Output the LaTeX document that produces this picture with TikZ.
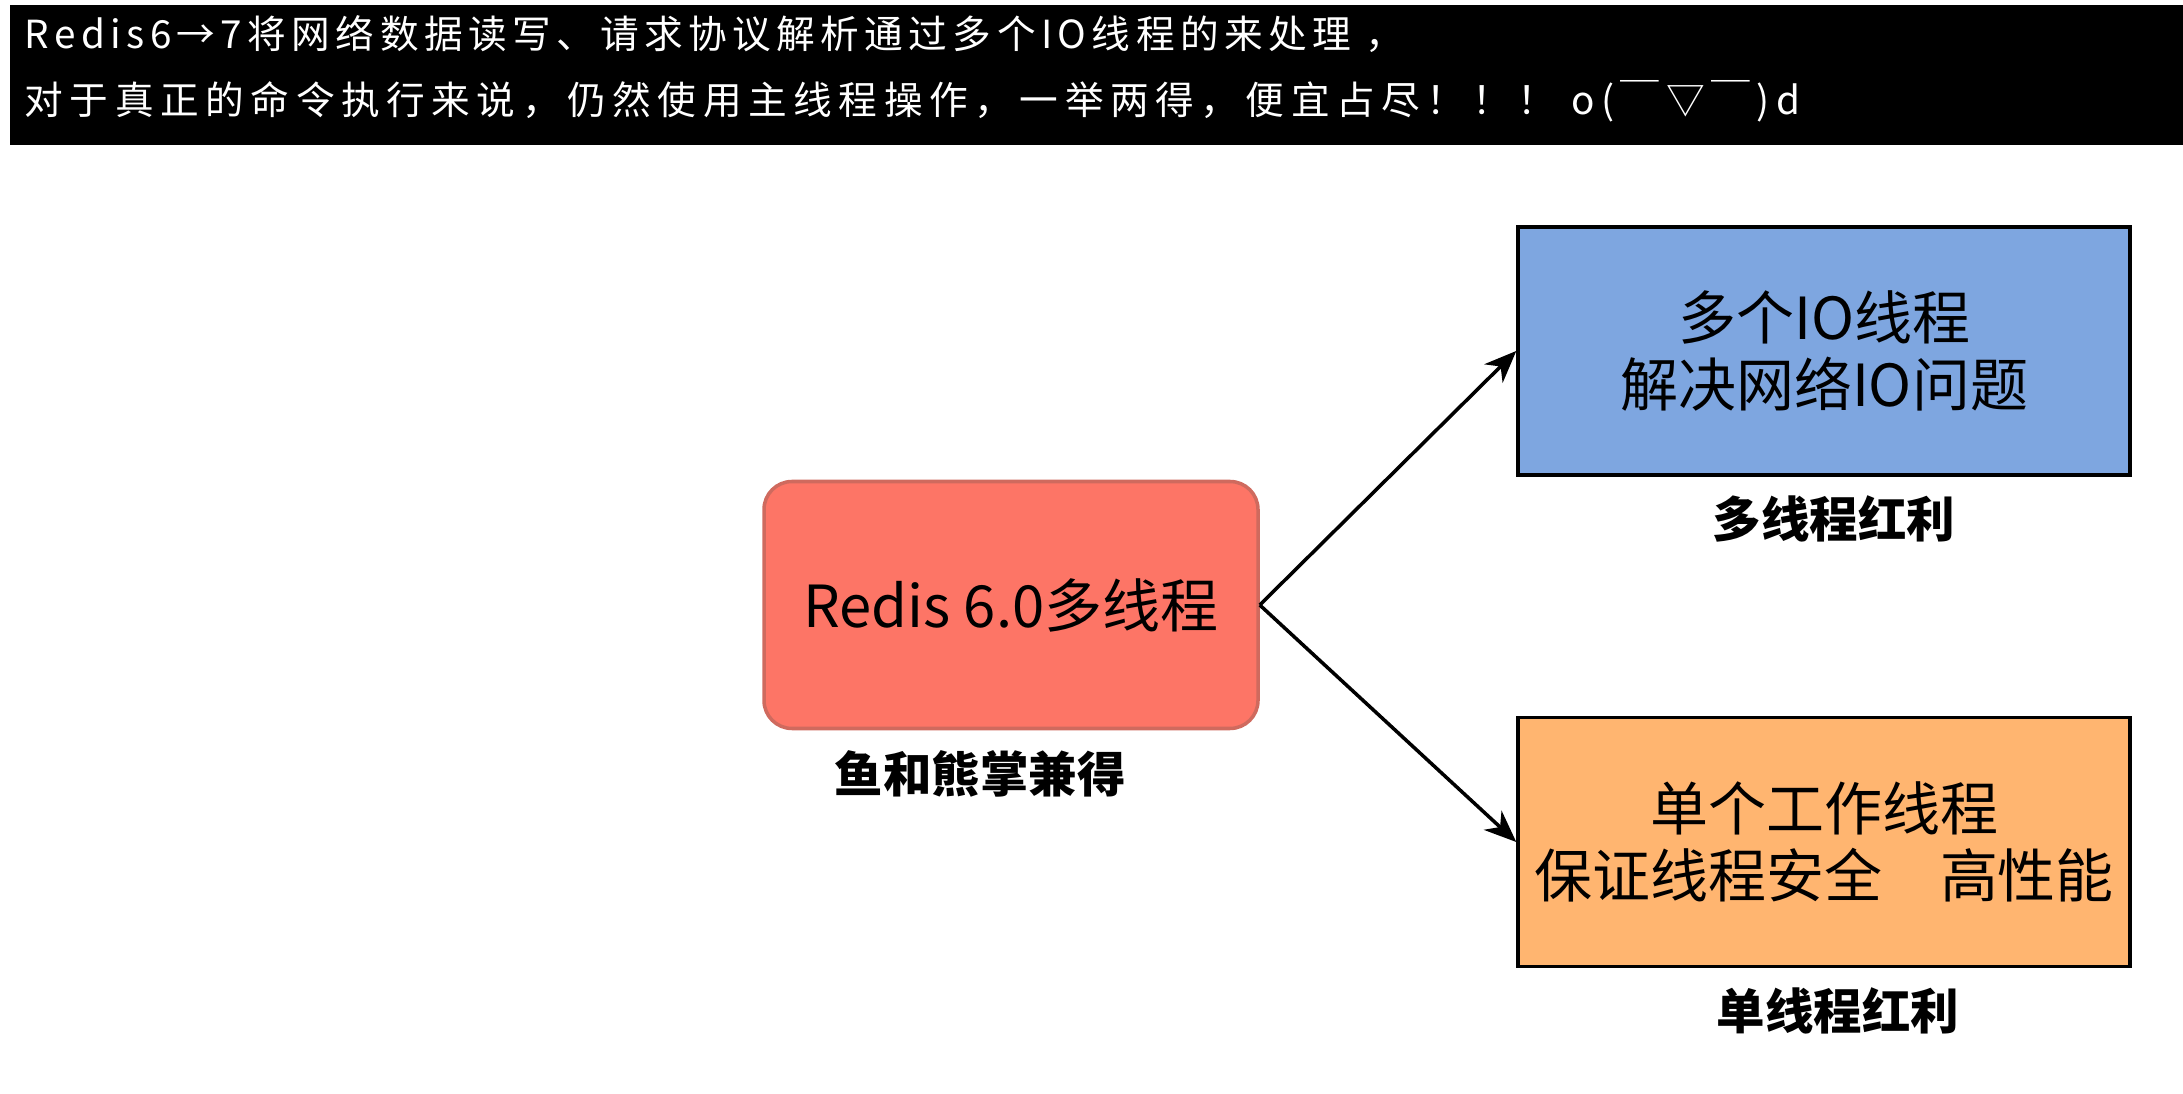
\documentclass[tikz,border=0pt]{standalone}
\usepackage{fontspec}
\setmainfont{Noto Sans CJK SC}
\usetikzlibrary{positioning,arrows.meta}
\definecolor{redisfill}{HTML}{FD7566}
\definecolor{redisline}{HTML}{CF6A5E}
\definecolor{multifill}{HTML}{7EA6E0}
\definecolor{singlefill}{HTML}{FFB570}
\tikzset{>={Stealth[length=3.2mm,width=2.6mm,inset=1mm]}}

\begin{document}
\begin{tikzpicture}[x=0.1mm,y=-0.1mm]
    \tikzset{
      box/.style={draw=black, line width=1pt, inner sep=0pt, align=center, font=\fontsize{16.5}{19}\selectfont},
      gain/.style={inner sep=0pt, font=\fontsize{13.8}{16}\selectfont\bfseries},
      bannertext/.style={text=white, anchor=west, inner sep=0pt, font=\fontsize{11}{13}\selectfont\addfontfeature{LetterSpace=#1}},
      bannertext/.default=14,
    }
    \useasboundingbox (0,0) rectangle (2183,1094);

    % Banner.
    \node [fill=black, anchor=north west, minimum width=217.4mm, minimum height=14mm, inner sep=0pt] (banner) at (9,4) {};
    \node [bannertext]    (line1) at (24,34)  {Redis6→7将网络数据读写、请求协议解析通过多个IO线程的来处理 ，};
    \node [bannertext=17] (line2) at (24,101) {对于真正的命令执行来说，仍然使用主线程操作，一举两得，便宜占尽！！！ o(￣▽￣)d};

    % Boxes.
    \node [box, draw=redisline, fill=redisfill, rounded corners=2.8mm, minimum width=49.4mm, minimum height=24.7mm] (redis) at (1011,605) {Redis 6.0多线程};
    \node [box, fill=multifill,  minimum width=61.2mm, minimum height=24.8mm] (multi)  at (1824,351) {多个IO线程\\解决网络IO问题};
    \node [box, fill=singlefill, minimum width=61.2mm, minimum height=24.9mm] (single) at (1824,842) {单个工作线程\\保证线程安全　高性能};

    % Captions.
    \node [gain] (both)      at (980,774)   {鱼和熊掌兼得};
    \node [gain] (multigain) at (1834,519)  {多线程红利};
    \node [gain] (singlegain) at (1838,1011) {单线程红利};

    % Arrows.
    \draw [->, line width=1pt] (redis.east) -- (multi.west);
    \draw [->, line width=1pt] (redis.east) -- (single.west);
\end{tikzpicture}
\end{document}
